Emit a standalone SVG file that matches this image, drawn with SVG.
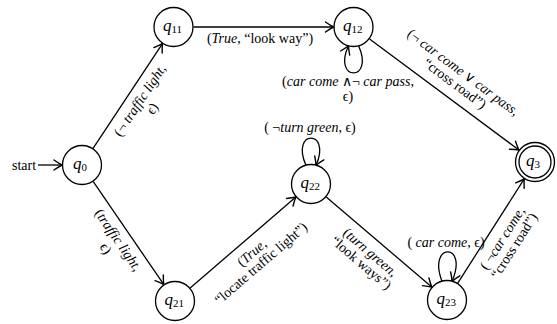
<svg xmlns="http://www.w3.org/2000/svg" width="557" height="324" viewBox="0 0 557 324">
<rect width="557" height="324" fill="#fff"/>
<defs>
<marker id="arr" viewBox="-10 -7 12 14" refX="0" refY="0" markerWidth="12" markerHeight="14" markerUnits="userSpaceOnUse" orient="auto">
<path d="M -8 -5 Q -3 -1.5 0 0 Q -3 1.5 -8 5" fill="none" stroke="#000" stroke-width="1.4" stroke-linecap="round" stroke-linejoin="round"/>
</marker>
</defs>
<g id="connectors" fill="none" stroke="#000" stroke-width="1.3">
<path marker-end="url(#arr)" d="M 38 165 L 62 165"/>
<path marker-end="url(#arr)" d="M 93.05 148.33 L 162.45 43.67"/>
<path marker-end="url(#arr)" d="M 93.29 181.51 L 163.71 284.49"/>
<path marker-end="url(#arr)" d="M 193.5 27 L 333.5 27"/>
<path marker-end="url(#arr)" d="M 369.55 38.94 L 518.95 150.06"/>
<path marker-end="url(#arr)" d="M 190.16 287.96 L 295.84 197.04"/>
<path marker-end="url(#arr)" d="M 326.22 196.98 L 431.78 287.02"/>
<path marker-end="url(#arr)" d="M 457.75 283.14 L 524.25 178.86"/>
<path marker-end="url(#arr)" d="M 358.55 45.8 C 375 82, 332 82, 348.45 45.8"/>
<path marker-end="url(#arr)" d="M 305.95 165.2 C 290 129, 332 129, 316.05 165.2"/>
<path marker-end="url(#arr)" d="M 441.95 281.2 C 427 242, 469 242, 452.05 281.2"/>
</g>
<g id="edge-labels" fill="#000">
<text x="12" y="169.5" font-family="Times New Roman" font-size="14">start</text>
<g transform="translate(127.75 96) rotate(-56.45)">
<text x="3" y="17" font-family="Times New Roman" font-size="14" text-anchor="middle">(¬ <tspan font-style="italic">traffic light</tspan>,</text>
<text x="3" y="32" font-family="Times New Roman" font-size="14" text-anchor="middle">ϵ)</text>
</g>
<g transform="translate(128.5 233) rotate(55.63)">
<text x="0" y="17" font-family="Times New Roman" font-size="14" text-anchor="middle">(<tspan font-style="italic">traffic light</tspan>,</text>
<text x="0" y="32" font-family="Times New Roman" font-size="14" text-anchor="middle">ϵ)</text>
</g>
<text x="260" y="43" font-family="Times New Roman" font-size="14" text-anchor="middle">(<tspan font-style="italic">True</tspan>, “look way”)</text>
<text x="348" y="86" font-family="Times New Roman" font-size="14" text-anchor="middle">(<tspan font-style="italic">car come</tspan> ∧¬ <tspan font-style="italic">car pass</tspan>,</text>
<text x="348" y="101" font-family="Times New Roman" font-size="14" text-anchor="middle">ϵ)</text>
<g transform="translate(444.25 94.5) rotate(36.64)">
<text x="2" y="-24.5" font-family="Times New Roman" font-size="14" text-anchor="middle">(¬ <tspan font-style="italic">car come</tspan> ∨ <tspan font-style="italic">car pass</tspan>,</text>
<text x="2" y="-10.5" font-family="Times New Roman" font-size="14" text-anchor="middle">“cross road”)</text>
</g>
<text x="310" y="132" font-family="Times New Roman" font-size="14" text-anchor="middle">( ¬<tspan font-style="italic">turn green</tspan>, ϵ)</text>
<g transform="translate(243 242.5) rotate(-40.7)">
<text x="0" y="18" font-family="Times New Roman" font-size="14" text-anchor="middle">(<tspan font-style="italic">True</tspan>,</text>
<text x="0" y="32" font-family="Times New Roman" font-size="14" text-anchor="middle">“locate traffic light”)</text>
</g>
<g transform="translate(379 242) rotate(40.46)">
<text x="0" y="18" font-family="Times New Roman" font-size="14" text-anchor="middle">(<tspan font-style="italic">turn green</tspan>,</text>
<text x="0" y="32" font-family="Times New Roman" font-size="14" text-anchor="middle">“look ways”)</text>
</g>
<text x="446" y="247" font-family="Times New Roman" font-size="14" text-anchor="middle">( <tspan font-style="italic">car come</tspan>, ϵ)</text>
<g transform="translate(491 231) rotate(-57.47)">
<text x="0" y="18" font-family="Times New Roman" font-size="14" text-anchor="middle">( ¬<tspan font-style="italic">car come</tspan>,</text>
<text x="0" y="32" font-family="Times New Roman" font-size="14" text-anchor="middle">“cross road”)</text>
</g>
</g>
<g id="q0"><circle cx="82" cy="165" r="19.5" fill="#fff" stroke="#000" stroke-width="1.3"/><text font-family="Times New Roman" font-size="17" font-style="italic" x="73" y="168.5">q</text><text font-family="Times New Roman" font-size="11" x="81.5" y="170.5">0</text></g>
<g id="q11"><circle cx="173.5" cy="27" r="19.5" fill="#fff" stroke="#000" stroke-width="1.3"/><text font-family="Times New Roman" font-size="17" font-style="italic" x="163" y="30.5">q</text><text font-family="Times New Roman" font-size="11" x="171.5" y="32.5">11</text></g>
<g id="q12"><circle cx="353.5" cy="27" r="19.5" fill="#fff" stroke="#000" stroke-width="1.3"/><text font-family="Times New Roman" font-size="17" font-style="italic" x="343" y="30.5">q</text><text font-family="Times New Roman" font-size="11" x="351.5" y="32.5">12</text></g>
<g id="q3"><circle cx="535" cy="162" r="19.5" fill="#fff" stroke="#000" stroke-width="1.3"/><circle cx="535" cy="162" r="16" fill="none" stroke="#000" stroke-width="1.3"/><text font-family="Times New Roman" font-size="17" font-style="italic" x="526" y="165.5">q</text><text font-family="Times New Roman" font-size="11" x="534.5" y="167.5">3</text></g>
<g id="q21"><circle cx="175" cy="301" r="19.5" fill="#fff" stroke="#000" stroke-width="1.3"/><text font-family="Times New Roman" font-size="17" font-style="italic" x="164.5" y="304.5">q</text><text font-family="Times New Roman" font-size="11" x="173" y="306.5">21</text></g>
<g id="q22"><circle cx="311" cy="184" r="19.5" fill="#fff" stroke="#000" stroke-width="1.3"/><text font-family="Times New Roman" font-size="17" font-style="italic" x="300.5" y="187.5">q</text><text font-family="Times New Roman" font-size="11" x="309" y="189.5">22</text></g>
<g id="q23"><circle cx="447" cy="300" r="19.5" fill="#fff" stroke="#000" stroke-width="1.3"/><text font-family="Times New Roman" font-size="17" font-style="italic" x="436.5" y="303.5">q</text><text font-family="Times New Roman" font-size="11" x="445" y="305.5">23</text></g>
</svg>
